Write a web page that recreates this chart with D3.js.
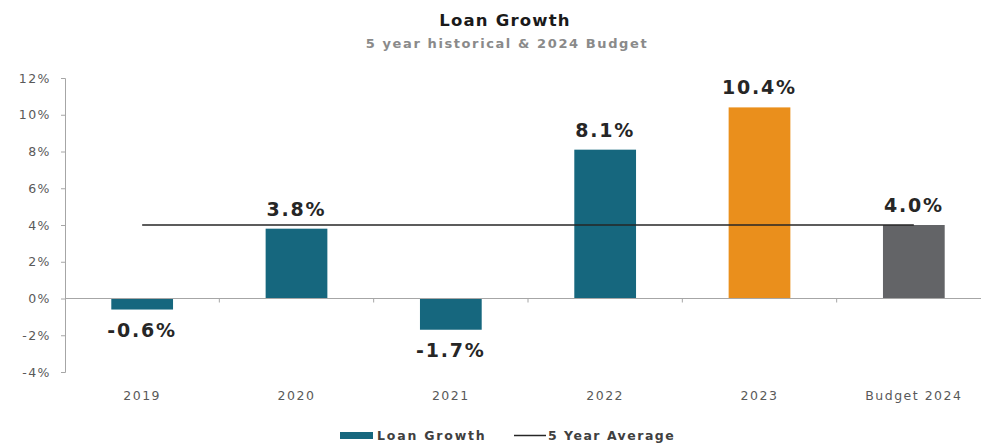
<!DOCTYPE html>
<html>
<head>
<meta charset="utf-8">
<script src="https://cdn.jsdelivr.net/npm/d3@7"></script>
<style>
  html, body { margin: 0; padding: 0; background: #fff; }
  svg { display: block; }
  text { font-family: "DejaVu Sans", Verdana, sans-serif; }
</style>
</head>
<body>
<svg id="chart" width="981" height="445"></svg>
<script>
// Loan growth by year, plus the 2024 budget
const categories = ["2019", "2020", "2021", "2022", "2023", "Budget 2024"];
const loanGrowth = [-0.6, 3.8, -1.7, 8.1, 10.4, 4.0];
const fiveYearAverage = [4.0, 4.0, 4.0, 4.0, 4.0, 4.0];
const barColors = ["#16677e", "#16677e", "#16677e", "#16677e", "#ea8f1c", "#636467"];
const yTicks = [-4, -2, 0, 2, 4, 6, 8, 10, 12];

const svg = d3.select("#chart");
const margin = { top: 78, right: 0, bottom: 73, left: 65 };
const width = 991;
const height = 445;

const x = d3.scaleBand()
  .domain(categories)
  .range([margin.left, width - margin.right])
  .paddingInner(0.6)
  .paddingOuter(0.3);

const y = d3.scaleLinear()
  .domain([-4, 12])
  .range([height - margin.bottom, margin.top]);

// Title
svg.append("text")
  .attr("x", 505).attr("y", 26)
  .attr("text-anchor", "middle")
  .attr("font-size", 16.5).attr("font-weight", "bold")
  .attr("letter-spacing", 1.2)
  .attr("fill", "#1a1a1a")
  .text("Loan Growth");
svg.append("text")
  .attr("x", 507).attr("y", 48)
  .attr("text-anchor", "middle")
  .attr("font-size", 13).attr("font-weight", "bold")
  .attr("letter-spacing", 1.6)
  .attr("fill", "#8a8a8a")
  .text("5 year historical & 2024 Budget");

// Y axis
const yAxis = svg.append("g")
  .attr("transform", `translate(${margin.left},0)`)
  .call(d3.axisLeft(y).tickValues(yTicks).tickFormat(d => d + "%").tickSize(4).tickSizeOuter(4));
yAxis.select(".domain").attr("stroke", "#a6a6a6");
yAxis.selectAll(".tick line").attr("stroke", "#a6a6a6");
yAxis.selectAll(".tick text")
  .attr("font-size", 12.5)
  .attr("letter-spacing", 1.5)
  .attr("fill", "#595959")
  .attr("x", -14)
  .style("font-family", "DejaVu Sans, Verdana, sans-serif");

// Bars
svg.append("g").selectAll("rect")
  .data(loanGrowth)
  .join("rect")
  .attr("x", (d, i) => x(categories[i]))
  .attr("width", x.bandwidth())
  .attr("y", d => y(Math.max(0, d)))
  .attr("height", d => Math.abs(y(d) - y(0)))
  .attr("fill", (d, i) => barColors[i]);

// Zero axis with category boundary ticks
const xAxis = svg.append("g")
  .attr("transform", `translate(0,${y(0)})`);
xAxis.append("line")
  .attr("x1", margin.left).attr("x2", width)
  .attr("y1", 0).attr("y2", 0)
  .attr("stroke", "#a6a6a6").attr("stroke-width", 1);
const step = x.step();
xAxis.selectAll("line.sep")
  .data(categories.slice(1))
  .join("line")
  .attr("class", "sep")
  .attr("x1", d => x(d) - step * x.paddingInner() / 2)
  .attr("x2", d => x(d) - step * x.paddingInner() / 2)
  .attr("y1", 0).attr("y2", 4)
  .attr("stroke", "#a6a6a6");

// Category labels
svg.append("g").selectAll("text")
  .data(categories)
  .join("text")
  .attr("x", d => x(d) + x.bandwidth() / 2)
  .attr("y", 400)
  .attr("text-anchor", "middle")
  .attr("font-size", 12.5)
  .attr("letter-spacing", 1.5)
  .attr("fill", "#595959")
  .text(d => d);

// Five-year average line
const line = d3.line()
  .x((d, i) => x(categories[i]) + x.bandwidth() / 2)
  .y(d => y(d));
svg.append("path")
  .datum(fiveYearAverage)
  .attr("d", line)
  .attr("fill", "none")
  .attr("stroke", "#262626")
  .attr("stroke-width", 1.5);

// Value labels
svg.append("g").selectAll("text")
  .data(loanGrowth)
  .join("text")
  .attr("x", (d, i) => x(categories[i]) + x.bandwidth() / 2)
  .attr("y", d => d >= 0 ? y(d) - 13 : y(d) + 27)
  .attr("text-anchor", "middle")
  .attr("font-size", 19).attr("font-weight", "bold")
  .attr("letter-spacing", 1.8)
  .attr("fill", "#262626")
  .text(d => d.toFixed(1) + "%");

// Legend
const legend = svg.append("g");
legend.append("rect")
  .attr("x", 340).attr("y", 432).attr("width", 33).attr("height", 7)
  .attr("fill", barColors[0]);
legend.append("text")
  .attr("x", 377).attr("y", 440)
  .attr("font-size", 12.5).attr("font-weight", "bold")
  .attr("letter-spacing", 1.8)
  .attr("fill", "#404040")
  .text("Loan Growth");
legend.append("line")
  .attr("x1", 514).attr("x2", 546).attr("y1", 435.5).attr("y2", 435.5)
  .attr("stroke", "#262626").attr("stroke-width", 1.5);
legend.append("text")
  .attr("x", 548).attr("y", 440)
  .attr("font-size", 12.5).attr("font-weight", "bold")
  .attr("letter-spacing", 1.5)
  .attr("fill", "#404040")
  .text("5 Year Average");
</script>
</body>
</html>
